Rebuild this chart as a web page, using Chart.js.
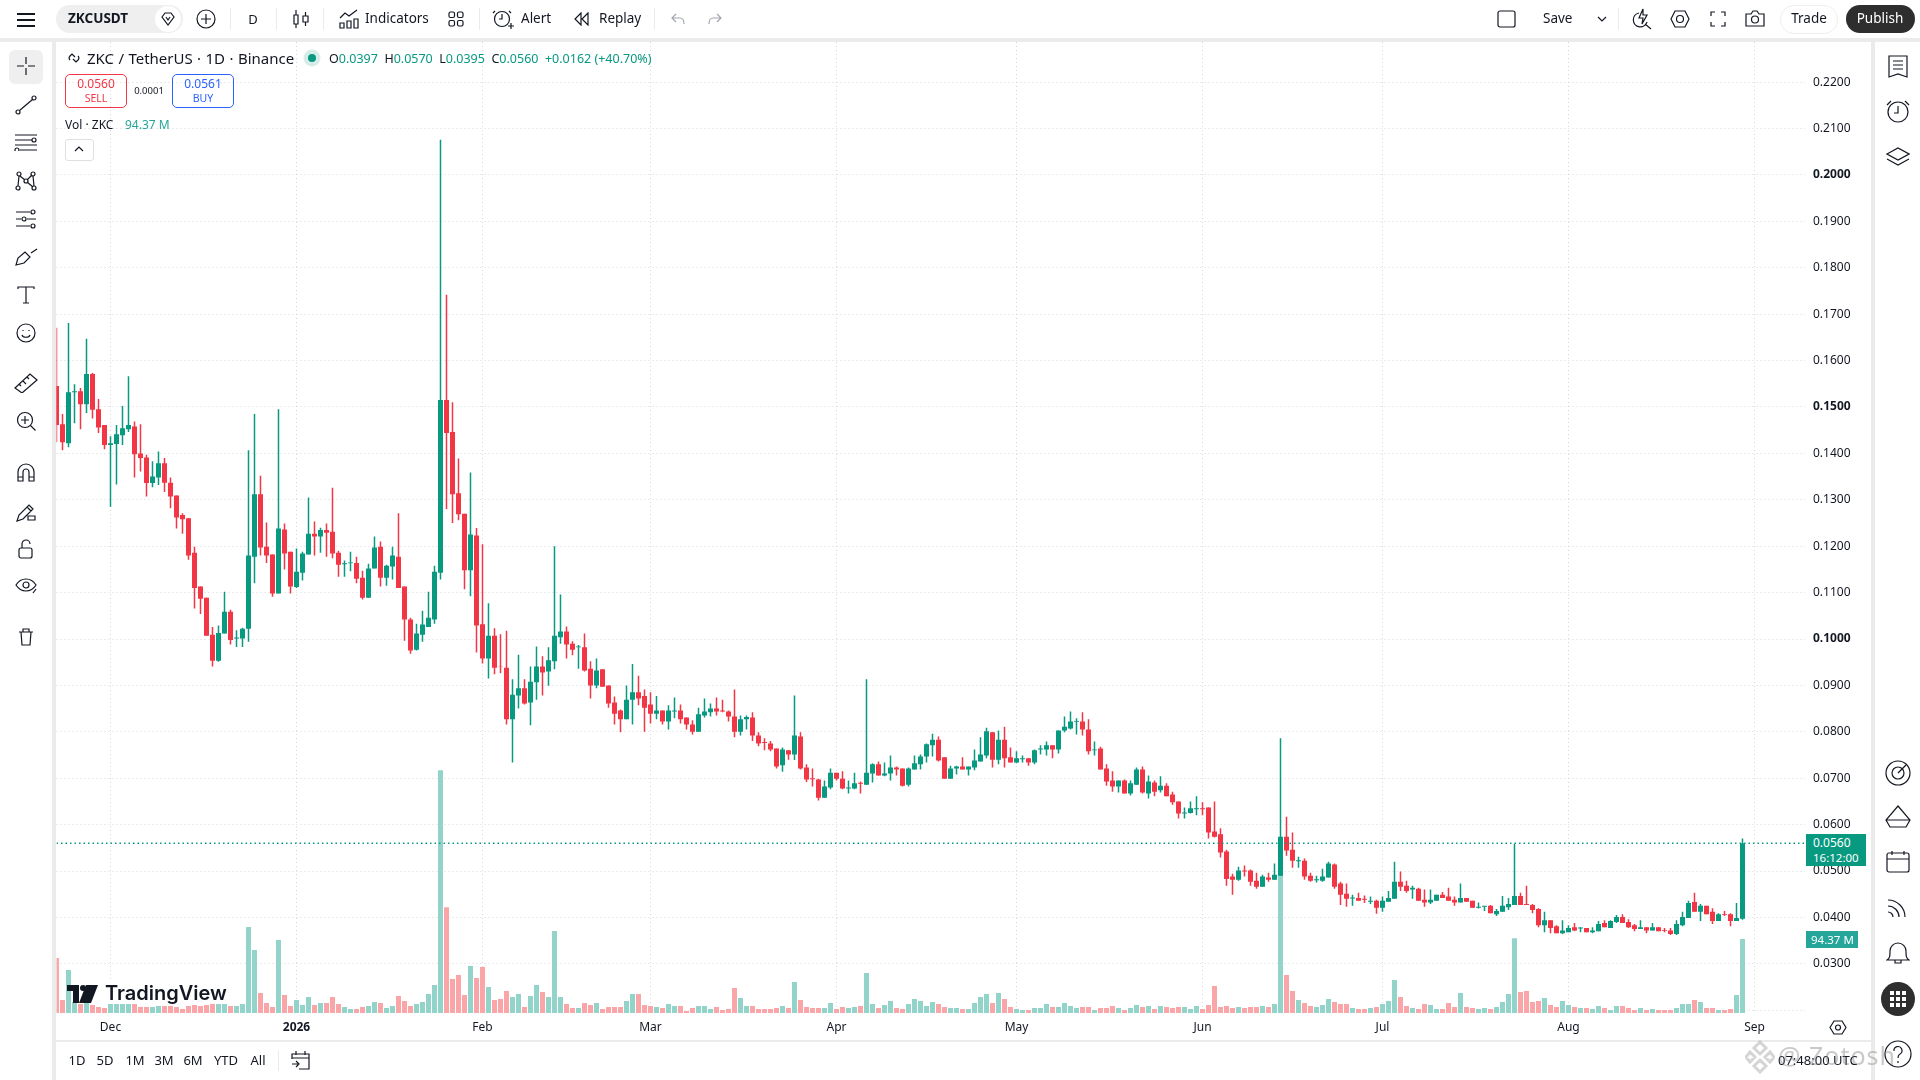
<!DOCTYPE html>
<html>
<head>
<meta charset="utf-8">
<title>ZKCUSDT</title>
<script src="https://cdn.jsdelivr.net/npm/chart.js@4/dist/chart.umd.js"></script>
<style>
html, body { margin: 0; padding: 0; background: #fff; width: 1920px; height: 1080px; overflow: hidden; }
body { font-family: "Noto Sans", sans-serif; color: #131722; font-size: 14px; }
canvas { position: absolute; left: 0; top: 0; }
.sep { position: absolute; background: #ebebeb; }
.t { position: absolute; white-space: nowrap; line-height: 1; transform: translateY(-50%); }
.c { transform: translate(-50%, -50%); }
.ic { position: absolute; fill: none; stroke: #131722; stroke-width: 1.2; }
.pill { position: absolute; border-radius: 14px; }
.up { color: #089981; }
</style>
</head>
<body>
<div class="sep" style="left:0;top:38px;width:1920px;height:4px"></div>
<div class="sep" style="left:52px;top:38px;width:4px;height:1042px"></div>
<div class="sep" style="left:1871px;top:38px;width:4px;height:1042px"></div>
<div class="sep" style="left:56px;top:1040px;width:1815px;height:2px"></div>
<canvas id="chart" width="1920" height="1080"></canvas>

<!-- top toolbar -->
<svg class="ic" style="left:17px;top:13px" width="18" height="14"><path d="M0 1h18M0 7h18M0 13h18" stroke-width="2"/></svg>
<div class="pill" style="left:56px;top:5px;width:127px;height:28px;background:#efefef"></div>
<div class="t" style="left:68px;top:19px;font-weight:700;font-size:13.5px">ZKCUSDT</div>
<div class="pill" style="left:155px;top:6px;width:26px;height:26px;background:#fff"></div>
<svg class="ic" style="left:161px;top:12px" width="14" height="14"><path d="M1 5l3-4h6l3 4-6 8zM5 5l2 3 2-3"/></svg>
<svg class="ic" style="left:196px;top:9px" width="20" height="20"><circle cx="10" cy="10" r="9"/><path d="M10 5v10M5 10h10"/></svg>
<div class="sep" style="left:230px;top:8px;width:1px;height:22px"></div>
<div class="t c" style="left:253px;top:19px;font-size:13px">D</div>
<div class="sep" style="left:276px;top:8px;width:1px;height:22px"></div>
<svg class="ic" style="left:293px;top:9px" width="16" height="20"><path d="M1 6h4v9H1zM3 1v5M3 15v4M10 7h5v6h-5zM12.500 3v4M12.500 13v4"/></svg>
<div class="sep" style="left:323px;top:8px;width:1px;height:22px"></div>
<svg class="ic" style="left:339px;top:9px" width="22" height="20"><path d="M1 9l5-5 4 3 8-6M1 19v-5h4v5zM8 19v-7h4v7zM15 19v-9h4v9z"/></svg>
<div class="t" style="left:365px;top:19px;font-size:13.5px">Indicators</div>
<svg class="ic" style="left:448px;top:11px" width="16" height="16"><rect x="1" y="1" width="5.500" height="5.500" rx="1.500"/><rect x="9.500" y="1" width="5.500" height="5.500" rx="1.500"/><rect x="1" y="9.500" width="5.500" height="5.500" rx="1.500"/><rect x="9.500" y="9.500" width="5.500" height="5.500" rx="1.500"/></svg>
<div class="sep" style="left:479px;top:8px;width:1px;height:22px"></div>
<svg class="ic" style="left:492px;top:8px" width="22" height="22"><circle cx="10" cy="11" r="7.500"/><path d="M10 6v5h-3M3 3L1 5M17 3l2 2M16 18h6M19 15v6"/></svg>
<div class="t" style="left:521px;top:19px;font-size:13.5px">Alert</div>
<svg class="ic" style="left:574px;top:12px" width="15" height="14"><path d="M7 1L1 7l6 6zM14 1L8 7l6 6z"/></svg>
<div class="t" style="left:599px;top:19px;font-size:13.5px">Replay</div>
<div class="sep" style="left:654px;top:8px;width:1px;height:22px"></div>
<svg class="ic" style="left:671px;top:13px;stroke:#a3a6af" width="14" height="12"><path d="M5 1L1 5l4 4M1 5h8c3 0 4 2 4 6"/></svg>
<svg class="ic" style="left:708px;top:13px;stroke:#a3a6af" width="14" height="12"><path d="M9 1l4 4-4 4M13 5H5C2 5 1 7 1 11"/></svg>

<svg class="ic" style="left:1497px;top:10px" width="19" height="18"><rect x="1" y="1" width="17" height="16" rx="2"/></svg>
<div class="t" style="left:1543px;top:19px;font-size:13.5px">Save</div>
<svg class="ic" style="left:1597px;top:16px" width="10" height="6"><path d="M1 1l4 4 4-4"/></svg>
<div class="sep" style="left:1618px;top:8px;width:1px;height:22px"></div>
<svg class="ic" style="left:1632px;top:8px" width="20" height="22"><path d="M7 5a7 7 0 1 0 8 9M13 16l6 5M11 1L7 10h4l-1 6 5-9h-4z"/></svg>
<svg class="ic" style="left:1670px;top:10px" width="20" height="18"><path d="M5 1h10l4 8-4 8H5L1 9z"/><circle cx="10" cy="9" r="3.500"/></svg>
<svg class="ic" style="left:1710px;top:11px" width="16" height="16"><path d="M1 5V1h4M11 1h4v4M15 11v4h-4M5 15H1v-4"/></svg>
<svg class="ic" style="left:1745px;top:10px" width="20" height="17"><path d="M1 4h5l2-3h4l2 3h5v12H1z"/><circle cx="10" cy="9.500" r="3.500"/></svg>
<div class="pill" style="left:1780px;top:5px;width:56px;height:27px;border:1px solid #eee;background:#fff"></div>
<div class="t c" style="left:1809px;top:19px;font-size:13.5px">Trade</div>
<div class="pill" style="left:1846px;top:5px;width:69px;height:28px;background:#2e2e2e"></div>
<div class="t c" style="left:1880px;top:19px;font-size:13.5px;color:#fff">Publish</div>

<!-- left toolbar -->
<div style="position:absolute;left:9px;top:50px;width:34px;height:34px;border-radius:6px;background:#efefef"></div>
<svg class="ic" style="left:16px;top:56px" width="20" height="20"><path d="M10 1v7M10 12v7M1 10h7M12 10h7"/></svg>
<svg class="ic" style="left:15px;top:95px" width="22" height="20"><circle cx="3" cy="17" r="2"/><circle cx="19" cy="3" r="2"/><path d="M4.500 15.500l13-11"/></svg>
<svg class="ic" style="left:14px;top:133px" width="24" height="18"><path d="M1 2h22M1 7h17M1 12h22M6 17h17"/><circle cx="20" cy="7" r="2"/><circle cx="3" cy="17" r="2"/></svg>
<svg class="ic" style="left:15px;top:171px" width="22" height="20"><circle cx="4" cy="3" r="2"/><circle cx="18" cy="3" r="2"/><circle cx="11" cy="10" r="2"/><circle cx="3" cy="17" r="2"/><circle cx="19" cy="17" r="2"/><path d="M4 5l-1 10M5 5l5 4M12 9l5-5M12 11l6 5M18 5l1 10"/></svg>
<svg class="ic" style="left:15px;top:209px" width="22" height="20"><path d="M1 3h14M1 10h5M12 10h9M1 17h14"/><circle cx="18" cy="3" r="2"/><circle cx="9" cy="10" r="2"/><circle cx="18" cy="17" r="2"/></svg>
<svg class="ic" style="left:15px;top:247px" width="24" height="20"><path d="M1 18l2-7 7-6 5 5-6 6zM16 6l6-4"/></svg>
<svg class="ic" style="left:17px;top:286px" width="18" height="18"><path d="M1 3V1h16v2M9 1v16M6 17h6"/></svg>
<svg class="ic" style="left:16px;top:323px" width="20" height="20"><circle cx="10" cy="10" r="9"/><path d="M6 12c1 3 7 3 8 0M7 7v1M13 7v1"/></svg>
<svg class="ic" style="left:14px;top:373px" width="24" height="20"><path d="M1 15L16 1l7 6L8 20zM5 11l2 2M9 8l3 3M13 4l2 2"/></svg>
<svg class="ic" style="left:16px;top:411px" width="20" height="20"><circle cx="9" cy="9" r="7.500"/><path d="M14.500 14.500l5 5M9 5v8M5 9h8"/></svg>
<svg class="ic" style="left:17px;top:463px" width="18" height="20"><path d="M1 18V9a8 8 0 0 1 16 0v9h-5V9a3 3 0 0 0-6 0v9zM1 14h5M12 14h5"/></svg>
<svg class="ic" style="left:16px;top:502px" width="20" height="20"><path d="M1 19l2-6L13 3l4 4L7 17zM11 5l4 4M12 18h7v-4h-7z"/></svg>
<svg class="ic" style="left:18px;top:539px" width="16" height="20"><rect x="1" y="9" width="13" height="10" rx="2"/><path d="M4 9V5a4 4 0 0 1 8 0"/></svg>
<svg class="ic" style="left:15px;top:576px" width="22" height="18"><path d="M1 9c5-8 15-8 20 0-5 8-15 8-20 0z"/><circle cx="11" cy="9" r="3"/><path d="M18 17l3-4"/></svg>
<svg class="ic" style="left:18px;top:628px" width="16" height="18"><path d="M1 4h14M5 4V1h6v3M3 4l1 13h8l1-13"/></svg>

<!-- right toolbar -->
<svg class="ic" style="left:1888px;top:55px" width="20" height="23"><path d="M1 1h18v21l-9-3-9 3zM5 6h10M5 10h10M5 14h10"/></svg>
<svg class="ic" style="left:1886px;top:98px" width="24" height="26"><circle cx="12" cy="14" r="10"/><path d="M12 8v7H8M1 7l4-4M23 7l-4-4"/></svg>
<svg class="ic" style="left:1886px;top:147px" width="24" height="20"><path d="M1 7l11-6 11 6-11 6zM1 12l11 6 11-6"/></svg>
<svg class="ic" style="left:1885px;top:760px" width="26" height="26"><circle cx="13" cy="13" r="12"/><circle cx="13" cy="13" r="6"/><path d="M13 13l8-8"/></svg>
<svg class="ic" style="left:1885px;top:805px" width="26" height="24"><path d="M13 1l12 14-4 7H5l-4-7zM1 15h24"/></svg>
<svg class="ic" style="left:1886px;top:850px" width="24" height="23"><rect x="1" y="3" width="22" height="19" rx="2"/><path d="M1 9h22M6 1v4M18 1v4"/></svg>
<svg class="ic" style="left:1887px;top:896px" width="22" height="22"><path d="M1 10a11 11 0 0 1 11 11M1 4a17 17 0 0 1 17 17M1 16a5 5 0 0 1 5 5"/></svg>
<svg class="ic" style="left:1886px;top:941px" width="24" height="25"><path d="M1 19c3-2 3-4 3-9a8 8 0 0 1 16 0c0 5 0 7 3 9zM9 19v3h6v-3"/></svg>
<svg style="position:absolute;left:1881px;top:982px" width="34" height="34"><circle cx="17" cy="17" r="17" fill="#2e2e2e"/><g fill="#fff"><rect x="9" y="9" width="4" height="4"/><rect x="15" y="9" width="4" height="4"/><rect x="21" y="9" width="4" height="4"/><rect x="9" y="15" width="4" height="4"/><rect x="15" y="15" width="4" height="4"/><rect x="21" y="15" width="4" height="4"/><rect x="9" y="21" width="4" height="4"/><rect x="15" y="21" width="4" height="4"/><rect x="21" y="21" width="4" height="4"/></g></svg>
<svg class="ic" style="left:1884px;top:1040px" width="28" height="28"><circle cx="14" cy="14" r="13"/><path d="M10 11a4 4 0 1 1 6 3c-2 1-2 2-2 4M14 21v2"/></svg>

<!-- legend block -->
<svg class="ic" style="left:68px;top:52px" width="12" height="12"><path d="M2 8a3 3 0 0 1 0-4l2-2 3 3M10 4a3 3 0 0 1 0 4l-2 2-3-3"/></svg>
<div class="t" style="left:87px;top:58px;font-size:15px;word-spacing:.5px">ZKC / TetherUS · 1D · Binance</div>
<svg style="position:absolute;left:303px;top:49px" width="18" height="18"><circle cx="9" cy="9" r="8.500" fill="#d7ece8"/><circle cx="9" cy="9" r="4" fill="#089981"/></svg>
<div class="t" style="left:329px;top:59px;font-size:12.5px">O<span class="up">0.0397</span>&nbsp;&nbsp;H<span class="up">0.0570</span>&nbsp;&nbsp;L<span class="up">0.0395</span>&nbsp;&nbsp;C<span class="up">0.0560</span>&nbsp;&nbsp;<span class="up">+0.0162 (+40.70%)</span></div>
<div style="position:absolute;left:65px;top:74px;width:60px;height:32px;border:1px solid #f23645;border-radius:5px"></div>
<div class="t c" style="left:96px;top:84px;font-size:12px;color:#f23645">0.0560</div>
<div class="t c" style="left:96px;top:98px;font-size:10.500px;color:#f23645">SELL</div>
<div class="t c" style="left:149px;top:91px;font-size:9.500px">0.0001</div>
<div style="position:absolute;left:172px;top:74px;width:60px;height:32px;border:1px solid #2962ff;border-radius:5px"></div>
<div class="t c" style="left:203px;top:84px;font-size:12px;color:#2962ff">0.0561</div>
<div class="t c" style="left:203px;top:98px;font-size:10.500px;color:#2962ff">BUY</div>
<div class="t" style="left:65px;top:125px;font-size:12px">Vol · ZKC</div>
<div class="t" style="left:125px;top:125px;font-size:12px;color:#26a69a">94.37 M</div>
<div style="position:absolute;left:65px;top:139px;width:27px;height:20px;border:1px solid #e0e0e0;border-radius:3px;background:#fff"></div>
<svg class="ic" style="left:74px;top:146px" width="10" height="6"><path d="M1 5l4-4 4 4"/></svg>

<!-- price scale tags -->
<div style="position:absolute;left:1806px;top:834px;width:60px;height:32px;background:#089981"></div>
<div class="t" style="left:1813px;top:843px;font-size:12px;color:#fff">0.0560</div>
<div class="t" style="left:1813px;top:858px;font-size:11.500px;color:#fff">16:12:00</div>
<div style="position:absolute;left:1806px;top:931px;width:52px;height:17px;background:#26a69a"></div>
<div class="t" style="left:1811px;top:940px;font-size:11.500px;color:#fff">94.37 M</div>

<!-- logo -->
<svg style="position:absolute;left:67px;top:985px" width="32" height="18"><path fill="#131722" d="M0 0h12v18H6V6H0zM19 0h12l-7 18H12z"/><circle cx="16" cy="3" r="3" fill="#131722"/></svg>
<div class="t" style="left:103px;top:993px;font-family:Inter,sans-serif;font-size:20px;font-weight:600;background:#fff;padding:1px 2px">TradingView</div>
<svg class="ic" style="left:1829px;top:1020px" width="18" height="15"><path d="M5 1h8l4 6.500L13 14H5L1 7.500z"/><circle cx="9" cy="7.500" r="2.500"/></svg>

<!-- bottom bar -->
<div class="t c" style="left:77px;top:1060px;font-size:13px">1D</div>
<div class="t c" style="left:105px;top:1060px;font-size:13px">5D</div>
<div class="t c" style="left:135px;top:1060px;font-size:13px">1M</div>
<div class="t c" style="left:164px;top:1060px;font-size:13px">3M</div>
<div class="t c" style="left:193px;top:1060px;font-size:13px">6M</div>
<div class="t c" style="left:226px;top:1060px;font-size:13px">YTD</div>
<div class="t c" style="left:258px;top:1060px;font-size:13px">All</div>
<div class="sep" style="left:278px;top:1050px;width:1px;height:21px"></div>
<svg class="ic" style="left:291px;top:1050px" width="19" height="20"><path d="M1 9V4h17v15H8M1 8h17M5 1v4M14 1v4M1 14h6M5 11l3 3-3 3"/></svg>
<div class="t" style="left:1778px;top:1060px;font-size:13px">07:48:00 UTC</div>
<div class="t" style="left:1778px;top:1055px;font-size:25px;color:rgba(120,120,120,.4);letter-spacing:1px">@ Zotosh</div>
<svg style="position:absolute;left:1745px;top:1040px;opacity:.35" width="30" height="34" fill="none" stroke="#888" stroke-width="3"><path d="M15 2l6 6-6 6-6-6zM5 12l5 5-5 5-4-5zM25 12l4 5-4 5-5-5zM15 20l6 6-6 6-6-6z"/></svg>

<script>
// Price data, one value per day
const opens = [
    0.1545, 0.1463, 0.1422, 0.1532, 0.1534, 0.1506, 0.1571, 0.1495, 0.1461, 0.1418,
    0.1420, 0.1439, 0.1452, 0.1458, 0.1400, 0.1391, 0.1336, 0.1348, 0.1379, 0.1337,
    0.1309, 0.1267, 0.1260, 0.1186, 0.1113, 0.1089, 0.1009, 0.0953, 0.1012, 0.1059,
    0.1001, 0.1001, 0.1022, 0.1177, 0.1312, 0.1199, 0.1182, 0.1098, 0.1236, 0.1188,
    0.1112, 0.1143, 0.1182, 0.1227, 0.1221, 0.1235, 0.1231, 0.1186, 0.1161, 0.1163,
    0.1164, 0.1132, 0.1089, 0.1152, 0.1199, 0.1132, 0.1156, 0.1177, 0.1113, 0.1042,
    0.0977, 0.1009, 0.1026, 0.1042, 0.1143, 0.1515, 0.1446, 0.1314, 0.1270, 0.1148,
    0.1223, 0.1032, 0.0958, 0.1007, 0.0941, 0.0938, 0.0827, 0.0878, 0.0894, 0.0863,
    0.0907, 0.0941, 0.0930, 0.0952, 0.1004, 0.1016, 0.0990, 0.0982, 0.0982, 0.0936,
    0.0900, 0.0935, 0.0900, 0.0863, 0.0846, 0.0827, 0.0869, 0.0885, 0.0877, 0.0859,
    0.0839, 0.0846, 0.0822, 0.0844, 0.0846, 0.0831, 0.0816, 0.0800, 0.0835, 0.0842,
    0.0850, 0.0846, 0.0844, 0.0833, 0.0800, 0.0827, 0.0831, 0.0792, 0.0778, 0.0775,
    0.0764, 0.0728, 0.0760, 0.0751, 0.0790, 0.0723, 0.0700, 0.0697, 0.0658, 0.0680,
    0.0712, 0.0699, 0.0678, 0.0678, 0.0690, 0.0686, 0.0710, 0.0730, 0.0706, 0.0710,
    0.0723, 0.0721, 0.0686, 0.0719, 0.0730, 0.0747, 0.0771, 0.0783, 0.0745, 0.0699,
    0.0721, 0.0725, 0.0719, 0.0723, 0.0736, 0.0749, 0.0799, 0.0740, 0.0783, 0.0745,
    0.0734, 0.0741, 0.0743, 0.0734, 0.0762, 0.0762, 0.0771, 0.0762, 0.0803, 0.0807,
    0.0821, 0.0822, 0.0805, 0.0760, 0.0764, 0.0721, 0.0695, 0.0682, 0.0695, 0.0667,
    0.0686, 0.0719, 0.0667, 0.0691, 0.0674, 0.0684, 0.0665, 0.0650, 0.0624, 0.0625,
    0.0633, 0.0635, 0.0637, 0.0585, 0.0579, 0.0542, 0.0488, 0.0481, 0.0501, 0.0501,
    0.0479, 0.0466, 0.0486, 0.0481, 0.0490, 0.0574, 0.0546, 0.0521, 0.0522, 0.0490,
    0.0480, 0.0479, 0.0486, 0.0514, 0.0473, 0.0451, 0.0441, 0.0442, 0.0440, 0.0434,
    0.0436, 0.0421, 0.0434, 0.0440, 0.0477, 0.0468, 0.0460, 0.0462, 0.0438, 0.0432,
    0.0436, 0.0449, 0.0445, 0.0438, 0.0432, 0.0442, 0.0436, 0.0421, 0.0423, 0.0425,
    0.0407, 0.0412, 0.0422, 0.0427, 0.0446, 0.0429, 0.0427, 0.0418, 0.0383, 0.0394,
    0.0381, 0.0366, 0.0368, 0.0379, 0.0376, 0.0377, 0.0368, 0.0370, 0.0388, 0.0377,
    0.0390, 0.0401, 0.0390, 0.0383, 0.0375, 0.0379, 0.0372, 0.0379, 0.0373, 0.0372,
    0.0364, 0.0383, 0.0399, 0.0433, 0.0412, 0.0425, 0.0412, 0.0392, 0.0407, 0.0407,
    0.0392, 0.0397
];
const highs = [
    0.1671, 0.1485, 0.1681, 0.1549, 0.1541, 0.1647, 0.1573, 0.1517, 0.1461, 0.1437,
    0.1461, 0.1502, 0.1566, 0.1469, 0.1463, 0.1397, 0.1383, 0.1404, 0.1390, 0.1348,
    0.1309, 0.1271, 0.1260, 0.1199, 0.1113, 0.1089, 0.1026, 0.1029, 0.1102, 0.1063,
    0.1019, 0.1024, 0.1407, 0.1485, 0.1352, 0.1251, 0.1182, 0.1495, 0.1249, 0.1188,
    0.1195, 0.1188, 0.1305, 0.1253, 0.1240, 0.1249, 0.1326, 0.1190, 0.1169, 0.1188,
    0.1177, 0.1147, 0.1162, 0.1221, 0.1210, 0.1160, 0.1199, 0.1271, 0.1113, 0.1046,
    0.1033, 0.1061, 0.1102, 0.1158, 0.2076, 0.1742, 0.1510, 0.1389, 0.1270, 0.1359,
    0.1239, 0.1204, 0.1077, 0.1023, 0.1010, 0.1018, 0.0913, 0.0966, 0.0913, 0.0941,
    0.0984, 0.0963, 0.0982, 0.1200, 0.1096, 0.1027, 0.0995, 0.0987, 0.1012, 0.0952,
    0.0958, 0.0935, 0.0900, 0.0876, 0.0848, 0.0900, 0.0946, 0.0921, 0.0891, 0.0885,
    0.0877, 0.0846, 0.0857, 0.0874, 0.0859, 0.0831, 0.0825, 0.0852, 0.0872, 0.0861,
    0.0874, 0.0869, 0.0846, 0.0891, 0.0835, 0.0835, 0.0842, 0.0799, 0.0786, 0.0780,
    0.0764, 0.0766, 0.0760, 0.0878, 0.0799, 0.0730, 0.0721, 0.0699, 0.0695, 0.0721,
    0.0712, 0.0715, 0.0695, 0.0712, 0.0693, 0.0913, 0.0732, 0.0736, 0.0734, 0.0749,
    0.0725, 0.0721, 0.0723, 0.0749, 0.0751, 0.0775, 0.0796, 0.0790, 0.0745, 0.0727,
    0.0727, 0.0745, 0.0725, 0.0762, 0.0788, 0.0809, 0.0799, 0.0803, 0.0811, 0.0766,
    0.0758, 0.0749, 0.0743, 0.0762, 0.0771, 0.0779, 0.0771, 0.0803, 0.0833, 0.0844,
    0.0829, 0.0842, 0.0827, 0.0779, 0.0768, 0.0730, 0.0715, 0.0695, 0.0697, 0.0695,
    0.0723, 0.0725, 0.0706, 0.0695, 0.0704, 0.0689, 0.0671, 0.0650, 0.0637, 0.0650,
    0.0661, 0.0648, 0.0637, 0.0650, 0.0592, 0.0546, 0.0494, 0.0509, 0.0512, 0.0503,
    0.0496, 0.0492, 0.0496, 0.0516, 0.0786, 0.0617, 0.0583, 0.0531, 0.0527, 0.0496,
    0.0490, 0.0505, 0.0520, 0.0516, 0.0477, 0.0473, 0.0449, 0.0453, 0.0447, 0.0445,
    0.0438, 0.0445, 0.0457, 0.0520, 0.0499, 0.0479, 0.0468, 0.0464, 0.0460, 0.0460,
    0.0449, 0.0455, 0.0464, 0.0445, 0.0473, 0.0442, 0.0436, 0.0432, 0.0424, 0.0427,
    0.0418, 0.0446, 0.0442, 0.0559, 0.0453, 0.0468, 0.0429, 0.0420, 0.0412, 0.0394,
    0.0383, 0.0394, 0.0383, 0.0388, 0.0379, 0.0377, 0.0379, 0.0392, 0.0394, 0.0394,
    0.0405, 0.0407, 0.0396, 0.0386, 0.0394, 0.0379, 0.0388, 0.0379, 0.0377, 0.0377,
    0.0394, 0.0412, 0.0436, 0.0453, 0.0429, 0.0425, 0.0420, 0.0409, 0.0414, 0.0409,
    0.0431, 0.0570
];
const lows = [
    0.1424, 0.1407, 0.1413, 0.1465, 0.1452, 0.1487, 0.1475, 0.1444, 0.1409, 0.1285,
    0.1333, 0.1418, 0.1446, 0.1348, 0.1361, 0.1307, 0.1327, 0.1332, 0.1317, 0.1282,
    0.1238, 0.1227, 0.1171, 0.1066, 0.1054, 0.1007, 0.0941, 0.0951, 0.1012, 0.0988,
    0.0983, 0.0983, 0.0994, 0.1120, 0.1180, 0.1164, 0.1091, 0.1098, 0.1150, 0.1098,
    0.1110, 0.1126, 0.1182, 0.1180, 0.1186, 0.1177, 0.1174, 0.1134, 0.1134, 0.1146,
    0.1120, 0.1085, 0.1089, 0.1152, 0.1113, 0.1115, 0.1128, 0.1110, 0.0996, 0.0968,
    0.0975, 0.0994, 0.1026, 0.1033, 0.1128, 0.1280, 0.1250, 0.1256, 0.1107, 0.1092,
    0.0971, 0.0947, 0.0915, 0.0924, 0.0926, 0.0816, 0.0734, 0.0850, 0.0859, 0.0814,
    0.0869, 0.0878, 0.0899, 0.0935, 0.0990, 0.0958, 0.0965, 0.0936, 0.0930, 0.0872,
    0.0894, 0.0897, 0.0852, 0.0816, 0.0799, 0.0827, 0.0816, 0.0857, 0.0800, 0.0818,
    0.0827, 0.0816, 0.0805, 0.0829, 0.0818, 0.0805, 0.0794, 0.0800, 0.0831, 0.0833,
    0.0835, 0.0842, 0.0822, 0.0788, 0.0792, 0.0805, 0.0780, 0.0769, 0.0760, 0.0758,
    0.0721, 0.0714, 0.0740, 0.0739, 0.0719, 0.0692, 0.0682, 0.0652, 0.0658, 0.0676,
    0.0695, 0.0676, 0.0667, 0.0676, 0.0667, 0.0686, 0.0691, 0.0706, 0.0704, 0.0695,
    0.0706, 0.0682, 0.0682, 0.0719, 0.0719, 0.0734, 0.0747, 0.0736, 0.0699, 0.0699,
    0.0708, 0.0719, 0.0706, 0.0717, 0.0736, 0.0743, 0.0723, 0.0730, 0.0723, 0.0734,
    0.0732, 0.0734, 0.0727, 0.0730, 0.0751, 0.0749, 0.0743, 0.0753, 0.0799, 0.0805,
    0.0794, 0.0792, 0.0751, 0.0749, 0.0719, 0.0684, 0.0671, 0.0669, 0.0667, 0.0663,
    0.0686, 0.0667, 0.0656, 0.0661, 0.0669, 0.0661, 0.0643, 0.0613, 0.0613, 0.0624,
    0.0620, 0.0620, 0.0570, 0.0572, 0.0529, 0.0468, 0.0449, 0.0479, 0.0488, 0.0468,
    0.0462, 0.0466, 0.0477, 0.0481, 0.0490, 0.0533, 0.0507, 0.0507, 0.0481, 0.0477,
    0.0475, 0.0477, 0.0486, 0.0462, 0.0427, 0.0423, 0.0425, 0.0436, 0.0431, 0.0429,
    0.0408, 0.0412, 0.0434, 0.0440, 0.0457, 0.0453, 0.0440, 0.0436, 0.0423, 0.0429,
    0.0436, 0.0442, 0.0436, 0.0425, 0.0432, 0.0434, 0.0421, 0.0419, 0.0414, 0.0409,
    0.0403, 0.0412, 0.0416, 0.0427, 0.0427, 0.0427, 0.0409, 0.0379, 0.0368, 0.0366,
    0.0366, 0.0364, 0.0368, 0.0370, 0.0368, 0.0368, 0.0366, 0.0370, 0.0379, 0.0377,
    0.0388, 0.0388, 0.0377, 0.0370, 0.0375, 0.0366, 0.0372, 0.0370, 0.0368, 0.0362,
    0.0362, 0.0381, 0.0399, 0.0412, 0.0392, 0.0407, 0.0386, 0.0392, 0.0403, 0.0381,
    0.0392, 0.0395
];
const closes = [
    0.1461, 0.1424, 0.1532, 0.1534, 0.1506, 0.1571, 0.1494, 0.1456, 0.1418, 0.1422,
    0.1441, 0.1454, 0.1461, 0.1398, 0.1390, 0.1336, 0.1350, 0.1379, 0.1337, 0.1307,
    0.1262, 0.1258, 0.1180, 0.1110, 0.1087, 0.1007, 0.0953, 0.1013, 0.1059, 0.0998,
    0.1003, 0.1022, 0.1180, 0.1312, 0.1197, 0.1180, 0.1098, 0.1238, 0.1184, 0.1113,
    0.1145, 0.1184, 0.1227, 0.1221, 0.1235, 0.1229, 0.1184, 0.1160, 0.1163, 0.1165,
    0.1130, 0.1089, 0.1152, 0.1197, 0.1132, 0.1158, 0.1180, 0.1110, 0.1042, 0.0975,
    0.1012, 0.1031, 0.1046, 0.1145, 0.1515, 0.1444, 0.1312, 0.1269, 0.1148, 0.1225,
    0.1029, 0.0958, 0.1007, 0.0938, 0.0940, 0.0827, 0.0880, 0.0894, 0.0861, 0.0908,
    0.0941, 0.0928, 0.0954, 0.1007, 0.1016, 0.0988, 0.0977, 0.0984, 0.0932, 0.0900,
    0.0932, 0.0897, 0.0861, 0.0839, 0.0827, 0.0869, 0.0885, 0.0872, 0.0852, 0.0839,
    0.0846, 0.0822, 0.0846, 0.0846, 0.0827, 0.0816, 0.0800, 0.0838, 0.0844, 0.0850,
    0.0844, 0.0844, 0.0833, 0.0800, 0.0827, 0.0832, 0.0792, 0.0775, 0.0776, 0.0762,
    0.0725, 0.0762, 0.0751, 0.0792, 0.0721, 0.0697, 0.0698, 0.0658, 0.0682, 0.0712,
    0.0699, 0.0678, 0.0680, 0.0689, 0.0688, 0.0712, 0.0730, 0.0706, 0.0710, 0.0723,
    0.0719, 0.0684, 0.0721, 0.0732, 0.0747, 0.0773, 0.0783, 0.0738, 0.0699, 0.0721,
    0.0725, 0.0719, 0.0725, 0.0738, 0.0751, 0.0801, 0.0740, 0.0783, 0.0743, 0.0734,
    0.0743, 0.0743, 0.0734, 0.0760, 0.0764, 0.0771, 0.0762, 0.0803, 0.0811, 0.0822,
    0.0823, 0.0805, 0.0758, 0.0762, 0.0719, 0.0693, 0.0682, 0.0695, 0.0667, 0.0689,
    0.0719, 0.0669, 0.0693, 0.0671, 0.0684, 0.0661, 0.0648, 0.0624, 0.0626, 0.0635,
    0.0635, 0.0633, 0.0583, 0.0574, 0.0540, 0.0483, 0.0481, 0.0501, 0.0499, 0.0477,
    0.0466, 0.0488, 0.0481, 0.0492, 0.0574, 0.0544, 0.0522, 0.0523, 0.0488, 0.0479,
    0.0482, 0.0488, 0.0516, 0.0466, 0.0449, 0.0440, 0.0443, 0.0436, 0.0438, 0.0436,
    0.0421, 0.0436, 0.0442, 0.0477, 0.0466, 0.0457, 0.0464, 0.0436, 0.0432, 0.0438,
    0.0449, 0.0442, 0.0436, 0.0432, 0.0442, 0.0434, 0.0421, 0.0423, 0.0425, 0.0409,
    0.0414, 0.0425, 0.0429, 0.0446, 0.0427, 0.0427, 0.0416, 0.0383, 0.0394, 0.0377,
    0.0366, 0.0372, 0.0377, 0.0372, 0.0378, 0.0368, 0.0372, 0.0386, 0.0379, 0.0392,
    0.0401, 0.0388, 0.0379, 0.0375, 0.0379, 0.0372, 0.0379, 0.0370, 0.0371, 0.0364,
    0.0386, 0.0401, 0.0431, 0.0412, 0.0425, 0.0407, 0.0392, 0.0407, 0.0405, 0.0392,
    0.0399, 0.0560
];
// Volume in millions of ZKC
const volumes = [
    70.1, 16.6, 54.8, 14, 11.5, 15.3, 10.2, 7.7, 6.4, 15.3,
    15.3, 15.3, 15.3, 11.5, 7.7, 7.7, 7.7, 8.9, 8.9, 8.9,
    7.7, 5.1, 8.9, 10.2, 8.9, 10.2, 15.3, 12.8, 23, 8.9,
    8.9, 11.5, 109.7, 80.3, 25.5, 12.8, 7.7, 93.1, 23, 8.9,
    16.6, 10.2, 20.4, 10.2, 12.8, 12.8, 20.4, 11.5, 7.7, 5.1,
    5.1, 7.7, 8.9, 14, 12.8, 6.4, 8.9, 21.7, 15.3, 8.9,
    11.5, 14, 24.2, 35.7, 310, 135.2, 43.4, 48.5, 23, 59.9,
    44.6, 58.7, 33.2, 16.6, 17.9, 28, 20.4, 24.2, 7.7, 21.7,
    35.7, 26.8, 20.4, 104.6, 20.4, 11.5, 6.4, 6.4, 12.8, 10.2,
    12.8, 5.1, 7.7, 7.7, 7.7, 15.3, 24.2, 24.2, 10.2, 8.9,
    7.7, 6.4, 11.5, 8.9, 8.9, 2.6, 6.4, 8.9, 8.9, 5.1,
    7.7, 3.8, 5.1, 31.9, 19.1, 8.9, 8.9, 5.1, 5.1, 5.1,
    6.4, 8.9, 6.4, 39.5, 16.6, 7.7, 6.4, 6.4, 6.4, 12.8,
    5.1, 7.7, 6.4, 7.7, 8.9, 51, 11.5, 6.4, 10.2, 15.3,
    6.4, 5.1, 11.5, 17.9, 15.3, 8.9, 14, 11.5, 7.7, 6.4,
    6.4, 5.1, 5.1, 12.8, 20.4, 24.2, 12.8, 25.5, 17.9, 7.7,
    5.1, 3.8, 3.8, 6.4, 6.4, 11.5, 7.7, 7.7, 12.8, 8.9,
    6.4, 7.7, 7.7, 3.8, 6.4, 6.4, 8.9, 6.4, 3.8, 6.4,
    10.2, 7.7, 8.9, 5.1, 8.9, 7.7, 6.4, 7.7, 7.7, 5.1,
    8.9, 5.1, 10.2, 34.4, 7.7, 8.9, 6.4, 7.7, 6.4, 7.7,
    7.7, 8.9, 7.7, 11.5, 184.9, 48.5, 28, 16.6, 12.8, 8.9,
    7.7, 10.2, 17.9, 14, 11.5, 11.5, 6.4, 5.1, 5.1, 6.4,
    7.7, 11.5, 15.3, 42.1, 20.4, 8.9, 6.4, 5.1, 11.5, 10.2,
    5.1, 5.1, 12.8, 7.7, 25.5, 7.7, 6.4, 5.1, 6.4, 5.1,
    7.7, 14, 24.2, 95.6, 26.8, 28, 14, 15.3, 19.1, 10.2,
    7.7, 15.3, 10.2, 7.7, 6.4, 6.4, 5.1, 8.9, 6.4, 3.8,
    8.9, 8.9, 6.4, 3.8, 6.4, 3.8, 5.1, 3.8, 3.8, 3.8,
    6.4, 11.5, 11.5, 16.6, 14, 6.4, 6.4, 3.8, 3.8, 5.1,
    23, 94.37
];
// Month ticks: index of the first day of each month, counted from the first candle
const monthTicks = [9, 40, 71, 99, 130, 160, 191, 221, 252, 283];
const monthLabels = ['Dec', '2026', 'Feb', 'Mar', 'Apr', 'May', 'Jun', 'Jul', 'Aug', 'Sep'];
const priceTicks = [0.02, 0.03, 0.04, 0.05, 0.06, 0.07, 0.08, 0.09, 0.10, 0.11, 0.12, 0.13, 0.14, 0.15, 0.16, 0.17, 0.18, 0.19, 0.20, 0.21, 0.22];
const boldPrices = ['0.10', '0.15', '0.20'];
const lastPrice = 0.0560;

const upColor = '#089981';
const downColor = '#f23645';
const gridColor = '#d4d6da';

const isUp = opens.map((o, i) => closes[i] >= o);
const candleColors = isUp.map(up => up ? upColor : downColor);
const volumeColors = isUp.map(up => up ? '#93d4ca' : '#faa6a8');

const chart = new Chart(document.getElementById('chart'), {
    type: 'bar',
    data: {
        datasets: [
            {
                // Current price line
                type: 'line',
                data: [{ x: 0, y: lastPrice }, { x: 292, y: lastPrice }],
                borderColor: upColor,
                borderWidth: 1.5,
                borderDash: [1.5, 3],
                pointRadius: 0,
                yAxisID: 'y',
                order: 0
            },
            {
                // Candle bodies
                data: opens.map((o, i) => ({ x: i, y: [o, closes[i]] })),
                backgroundColor: candleColors,
                barThickness: 5,
                maxBarThickness: 5,
                inflateAmount: 0,
                grouped: false,
                yAxisID: 'y',
                order: 1
            },
            {
                // Candle wicks
                data: highs.map((h, i) => ({ x: i, y: [lows[i], h] })),
                backgroundColor: candleColors,
                barThickness: 1.5,
                maxBarThickness: 1.5,
                inflateAmount: 0,
                grouped: false,
                yAxisID: 'y',
                order: 2
            },
            {
                // Volume pane
                data: volumes.map((v, i) => ({ x: i, y: v })),
                backgroundColor: volumeColors,
                barThickness: 5,
                maxBarThickness: 5,
                inflateAmount: 0,
                grouped: false,
                yAxisID: 'volume',
                order: 3
            }
        ]
    },
    options: {
        responsive: false,
        animation: false,
        devicePixelRatio: 1,
        layout: { padding: { left: 56.5, top: 42, right: 0, bottom: 0 } },
        plugins: { legend: { display: false }, tooltip: { enabled: false } },
        scales: {
            x: {
                type: 'linear',
                offset: false,
                min: 0,
                max: 291.4167,
                afterFit: scale => { scale.height = 67; },
                afterBuildTicks: scale => { scale.ticks = monthTicks.map(value => ({ value })); },
                grid: { color: gridColor, drawTicks: false, offset: false },
                border: { display: false, dash: [1, 3] },
                ticks: {
                    autoSkip: false,
                    maxRotation: 0,
                    padding: 7,
                    color: '#131722',
                    font: ctx => ({
                        family: '"Noto Sans"',
                        size: 12,
                        weight: ctx.tick && ctx.tick.value === 40 ? 'bold' : 'normal'
                    }),
                    callback: value => monthLabels[monthTicks.indexOf(value)]
                }
            },
            y: {
                position: 'right',
                min: 0.0194,
                max: 0.22866,
                afterFit: scale => { scale.width = 115; },
                afterBuildTicks: scale => { scale.ticks = priceTicks.map(value => ({ value })); },
                grid: { color: gridColor, drawTicks: false },
                border: { display: false, dash: [1, 3] },
                ticks: {
                    autoSkip: false,
                    padding: 8,
                    color: '#131722',
                    font: ctx => ({
                        family: '"Noto Sans"',
                        size: 12,
                        weight: ctx.tick && boldPrices.includes(ctx.tick.value.toFixed(2)) ? 'bold' : 'normal'
                    }),
                    callback: value => value < 0.025 ? '' : value.toFixed(4)
                }
            },
            volume: {
                display: false,
                position: 'right',
                min: 0,
                max: 1240
            }
        }
    }
});
</script>
</body>
</html>
